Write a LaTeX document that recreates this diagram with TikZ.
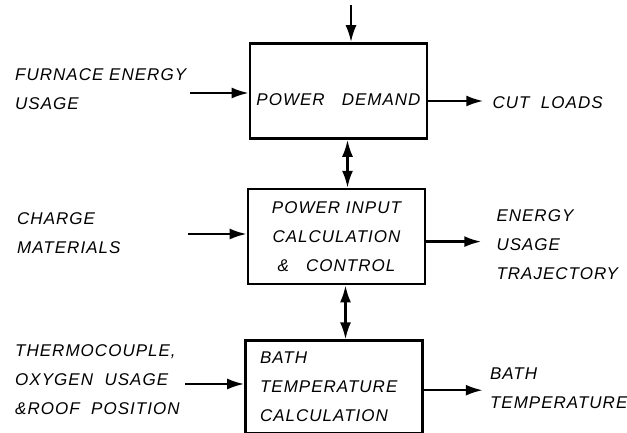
\documentclass[tikz,border=0pt]{standalone}
\usepackage{fontspec}
\usetikzlibrary{arrows.meta,positioning}
\newfontfamily\letteringfam[LetterSpace=6]{Liberation Sans}
\newcommand{\lettering}{\letteringfam\itshape\fontsize{17}{29}\selectfont}
\tikzset{
  blockbox/.style={
    draw,
    line width=2.6pt,
    minimum width=177pt,
    minimum height=95pt,
    text width=167pt,
    inner xsep=5pt,
    align=center,
    font=\lettering
  },
  sidelabel/.style={font=\lettering,align=left,anchor=west,inner sep=0pt},
  flowarrow/.style={-{Latex[length=17pt,width=11pt]},line width=2.4pt},
  biarrow/.style={{Latex[length=17pt,width=11pt]}-{Latex[length=17pt,width=11pt]},line width=2.4pt}
}
\begin{document}
\begin{tikzpicture}[x=1pt,y=1pt,node distance=48pt]
  \useasboundingbox (0,0) rectangle (627,433);
  \node[blockbox,text height=30pt] (demand) at (338.5,342) {POWER\ \ \ DEMAND};
  \node[blockbox,below=48pt of demand,xshift=-2pt] (calc) {POWER INPUT\\CALCULATION\\\&\ \ \ CONTROL};
  \node[blockbox,below=54pt of calc,xshift=-2.5pt,minimum height=93pt,text width=148pt,inner xsep=14pt,align=left] (bath) {BATH\\TEMPERATURE\\CALCULATION};
  \coordinate (topin) at (351,428);
  \coordinate (furnacein) at (190,340);
  \coordinate (chargein) at (188,199);
  \coordinate (thermoin) at (185,49);
  \node[sidelabel] (furnace) at (15,344) {FURNACE\ ENERGY\\USAGE};
  \node[sidelabel] (charge) at (17,200) {CHARGE\\MATERIALS};
  \node[sidelabel] (thermo) at (15,53) {THERMOCOUPLE,\\OXYGEN\ \ USAGE\\\&ROOF\ \ POSITION};
  \draw[flowarrow] (topin) -- (topin |- demand.north);
  \draw[flowarrow] (furnacein) -- (furnacein -| demand.west);
  \draw[flowarrow] (chargein) -- (chargein -| calc.west);
  \draw[flowarrow] (thermoin) -- (thermoin -| bath.west);
  \draw[biarrow] ([xshift=9pt]demand.south) -- ([xshift=9pt]demand.south |- calc.north);
  \draw[biarrow] ([xshift=9pt]calc.south) -- ([xshift=9pt]calc.south |- bath.north);
  \draw[flowarrow] ([yshift=-10pt]demand.east) -- ++(55,0) node[sidelabel,right=8pt,yshift=-2pt] (cut) {CUT\ \ LOADS};
  \draw[flowarrow] ([yshift=-5pt]calc.east) -- ++(55,0) node[sidelabel,right=14pt,yshift=-3pt] (trajectory) {ENERGY\\USAGE\\TRAJECTORY};
  \draw[flowarrow] ([yshift=-3pt]bath.east) -- ++(59,0) node[sidelabel,right=6pt,yshift=2pt] (bathtemp) {BATH\\TEMPERATURE};
\end{tikzpicture}
\end{document}
